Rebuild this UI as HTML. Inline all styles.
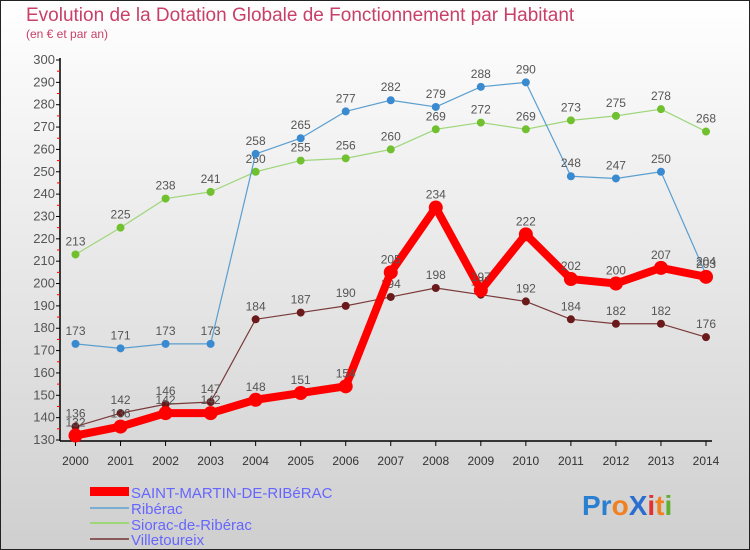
<!DOCTYPE html>
<html><head><meta charset="utf-8"><style>
body{margin:0}
#c{width:750px;height:550px;position:relative;overflow:hidden;font-family:"Liberation Sans",sans-serif}
</style></head><body>
<div id="c">
<svg id="s" width="750" height="550" xmlns="http://www.w3.org/2000/svg">
<defs><linearGradient id="bg" x1="0" y1="0" x2="0" y2="1"><stop offset="0" stop-color="#ffffff"/><stop offset="1" stop-color="#cfcfcf"/></linearGradient></defs>
<rect x="0.5" y="0.5" width="749" height="549" fill="url(#bg)" stroke="#222"/>
<text x="26" y="21" font-size="19" fill="#c8406a">Evolution de la Dotation Globale de Fonctionnement par Habitant</text>
<text x="26" y="38" font-size="12" fill="#c8406a">(en € et par an)</text>
<g id="axes"></g><g id="series"></g>
<g>
<rect x="90" y="487" width="39" height="9" fill="#ff0000"/>
<text x="131" y="498" font-size="15" fill="#6666ff">SAINT-MARTIN-DE-RIBéRAC</text>
<rect x="90" y="507" width="39" height="2" fill="#7aaed0"/>
<text x="131" y="514" font-size="15" fill="#6666ff">Ribérac</text>
<rect x="90" y="522" width="39" height="2" fill="#9ed67a"/>
<text x="131" y="530" font-size="15" fill="#6666ff">Siorac-de-Ribérac</text>
<rect x="90" y="538" width="39" height="2" fill="#8a5a5a"/>
<text x="131" y="545" font-size="15" fill="#6666ff">Villetoureix</text>
</g>
<g font-size="28" font-weight="bold">
<text x="582" y="515"><tspan fill="#2a7fd0">Pr</tspan><tspan fill="#f08020">o</tspan><tspan fill="#2a6fd0">X</tspan><tspan fill="#e03030">i</tspan><tspan fill="#f08020">t</tspan><tspan fill="#60b030">i</tspan></text>
</g>
</svg>
</div>
<script>
const years=[2000,2001,2002,2003,2004,2005,2006,2007,2008,2009,2010,2011,2012,2013,2014];
const yTicks=[130,140,150,160,170,180,190,200,210,220,230,240,250,260,270,280,290,300];
const saintMartin=[132,136,142,142,148,151,154,205,234,197,222,202,200,207,203];
const riberac=[173,171,173,173,258,265,277,282,279,288,290,248,247,250,204];
const siorac=[213,225,238,241,250,255,256,260,269,272,269,273,275,278,268];
const villetoureix=[136,142,146,147,184,187,190,194,198,195,192,184,182,182,176];

const NS="http://www.w3.org/2000/svg";
function xs(i){return 75.5+i*(706-75.5)/(years.length-1);}
function ys(v){return 440-(v-130)*380/170;}
function mk(t,a,p){const e=document.createElementNS(NS,t);for(const k in a)e.setAttribute(k,a[k]);p.appendChild(e);return e;}
const ax=document.getElementById('axes');
mk('line',{x1:60,y1:58,x2:60,y2:441,stroke:'#000','stroke-width':1.5},ax);
mk('line',{x1:60,y1:441,x2:712,y2:441,stroke:'#000','stroke-width':1.5},ax);
yTicks.forEach((v,i)=>{
  const y=ys(v);
  mk('line',{x1:56,y1:y,x2:60,y2:y,stroke:'#000'},ax);
  if(i<yTicks.length-1) mk('line',{x1:57,y1:ys(v+5),x2:60,y2:ys(v+5),stroke:'#f00'},ax);
  const t=mk('text',{x:55,y:y+4,'font-size':13,'text-anchor':'end',fill:'#555'},ax);
  t.textContent=v;
  
  
});
years.forEach((yr,i)=>{
  const x=xs(i);
  mk('line',{x1:x,y1:441,x2:x,y2:446,stroke:'#000'},ax);
  const t=mk('text',{x:x,y:465,'font-size':12,'text-anchor':'middle',fill:'#333'},ax);
  t.textContent=yr;
  
  
});
const sg=document.getElementById('series');
function draw(name,vals,color,lw,r,dot){
  const g=mk('g',{},sg);
  
  
  const pl=mk('polyline',{points:vals.map((v,i)=>xs(i)+','+ys(v)).join(' '),fill:'none',stroke:color,'stroke-width':lw,'stroke-linejoin':'round'},g);
  
  
  vals.forEach((v,i)=>{
    const c=mk('circle',{cx:xs(i),cy:ys(v),r:r,fill:dot},g);
    
    
    const t=mk('text',{x:xs(i),y:ys(v)-9,'font-size':12,'text-anchor':'middle',fill:'#555'},g);
    t.textContent=v;
    
    
  });
}
draw('villetoureix',villetoureix,'#7a3a3a',1.2,4,'#6a1a1a');
draw('siorac',siorac,'#9ed67a',1.2,4,'#70c030');
draw('riberac',riberac,'#5a9ed0',1.2,4,'#3a8ad0');
draw('saint-martin',saintMartin,'#ff0000',8,7,'#ff0000');
</script>
</body></html>
